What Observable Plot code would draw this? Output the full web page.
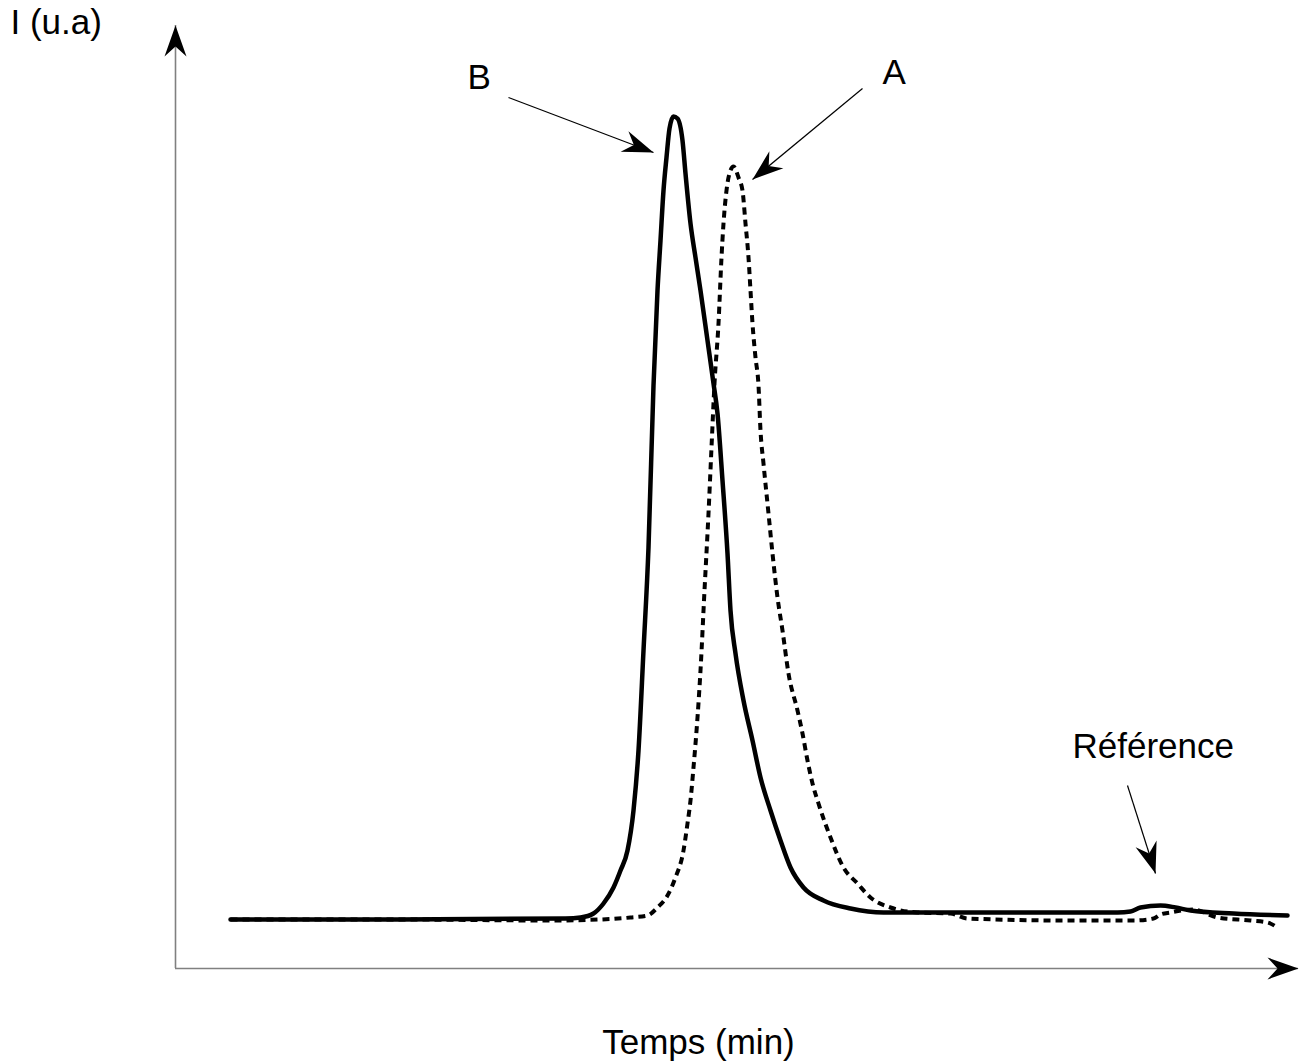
<!DOCTYPE html>
<html>
<head>
<meta charset="utf-8">
<script src="https://cdn.jsdelivr.net/npm/d3@7"></script>
<script src="https://cdn.jsdelivr.net/npm/@observablehq/plot@0.6"></script>
<style>
  html, body { margin: 0; padding: 0; background: #fff; }
  #chart svg { display: block; }
</style>
</head>
<body>
<div id="chart"></div>
<script>
// ---- Data (time in min, intensity in arbitrary units) ----
const timeB = [2.75, 11.25, 19.5, 20.25, 20.9, 21.4, 21.9, 22.25, 22.6, 22.9, 23.15, 23.4, 23.65, 23.9, 24.1, 24.25, 24.4, 24.55, 24.7, 24.9, 25.1, 25.35, 25.5, 25.75, 26.0, 26.25, 26.6, 26.9, 27.1, 27.35, 27.6, 27.75, 28.0, 28.4, 28.85, 29.25, 29.75, 30.25, 30.75, 31.4, 32.4, 33.75, 35.4, 38.75, 41.25, 47.1, 47.75, 48.25, 49.25, 50.0, 50.75, 52.9, 55.6];
const intensityB = [4.9, 4.9, 5.0, 5.1, 5.5, 6.5, 8.1, 9.8, 11.8, 15.8, 21.8, 31.8, 42.1, 58.3, 67.8, 72.8, 77.8, 81.1, 84.0, 85.2, 85.0, 82.8, 79.5, 74.5, 71.1, 67.8, 62.8, 58.5, 55.5, 48.8, 41.5, 35.8, 31.5, 26.8, 22.8, 19.1, 15.8, 12.8, 10.1, 8.1, 6.8, 6.0, 5.6, 5.6, 5.6, 5.6, 5.7, 6.1, 6.3, 6.1, 5.8, 5.5, 5.3];

const timeA = [2.75, 11.25, 18.75, 21.25, 22.75, 23.6, 24.1, 24.6, 25.0, 25.4, 25.6, 25.75, 25.9, 26.1, 26.25, 26.45, 26.65, 26.8, 26.95, 27.15, 27.3, 27.4, 27.55, 27.7, 27.9, 28.15, 28.35, 28.5, 28.65, 28.75, 28.85, 29.0, 29.15, 29.25, 29.4, 29.65, 29.85, 30.1, 30.35, 30.65, 31.1, 31.35, 31.6, 31.85, 32.15, 32.75, 33.4, 34.1, 34.75, 35.75, 37.1, 38.75, 39.6, 44.6, 47.9, 48.9, 49.25, 49.75, 50.9, 52.1, 53.75, 54.6, 55.1];
const intensityA = [4.9, 4.9, 4.8, 4.9, 5.1, 5.3, 6.1, 7.3, 9.1, 11.8, 14.5, 16.8, 20.1, 25.1, 29.8, 37.8, 45.5, 52.1, 58.5, 64.5, 71.1, 74.5, 77.8, 79.5, 80.2, 79.1, 77.8, 74.5, 71.1, 67.8, 64.5, 61.1, 58.3, 53.8, 50.5, 45.5, 41.5, 37.1, 33.8, 29.5, 25.8, 23.5, 20.8, 18.5, 16.5, 13.1, 10.1, 8.5, 7.1, 6.1, 5.6, 5.5, 5.0, 4.8, 4.8, 5.0, 5.4, 5.6, 5.9, 5.1, 4.8, 4.6, 4.1];

// Text labels (left-anchored)
const labelText = ["I (u.a)", "B", "A", "Référence"];
const labelX = [-8.25, 14.6, 35.35, 44.85];
const labelY = [93.5, 88.0, 88.5, 21.1];
// Axis title (centred)
const xTitle = ["Temps (min)"];
const xTitleX = [26.15];
const xTitleY = [-8.5];

// Annotation arrows (tail -> tip)
const arrowName = ["B", "A", "Référence"];
const arrowX1 = [16.65, 34.35, 47.6];
const arrowY1 = [87.1, 88.0, 18.3];
const arrowX2 = [23.9, 28.85, 49.0];
const arrowY2 = [81.6, 78.9, 9.5];

// Axis extents
const xAxisEnd = 56.15;
const yAxisEnd = 94.3;

// ---- Build tables ----
const seriesB = timeB.map((t, i) => ({t, v: intensityB[i]}));
const seriesA = timeA.map((t, i) => ({t, v: intensityA[i]}));
const labels = labelText.map((s, i) => ({s, x: labelX[i], y: labelY[i]}));
const titles = xTitle.map((s, i) => ({s, x: xTitleX[i], y: xTitleY[i]}));
const arrows = arrowName.map((n, i) => ({n, x1: arrowX1[i], y1: arrowY1[i], x2: arrowX2[i], y2: arrowY2[i]}));

const xDomain = [0, 56.1], xRange = [175, 1297];
const yDomain = [0, 93.8], yRange = [968, 30];
const sx = d3.scaleLinear(xDomain, xRange);
const sy = d3.scaleLinear(yDomain, yRange);

// arrowheads: for annotation arrows and both axes
const heads = [
  ...arrows.map(a => ({x: a.x2, y: a.y2, x0: a.x1, y0: a.y1})),
  {x: 0, y: yAxisEnd, x0: 0, y0: 0},
  {x: xAxisEnd, y: 0, x0: 0, y0: 0}
].map(h => {
  const dx = sx(h.x) - sx(h.x0), dy = sy(h.y) - sy(h.y0);
  return {...h, angle: Math.atan2(dx, -dy) * 180 / Math.PI};
});

// stealth arrowhead symbol, tip at origin pointing up
const stealth = {
  draw(context) {
    context.moveTo(0, 0);
    context.lineTo(11, 31);
    context.lineTo(0, 21);
    context.lineTo(-11, 31);
    context.closePath();
  }
};

const font = "Liberation Sans, Arial, Helvetica, sans-serif";

const chart = Plot.plot({
  width: 1305,
  height: 1061,
  marginLeft: 0, marginRight: 0, marginTop: 0, marginBottom: 0,
  x: {domain: xDomain, range: xRange, axis: null},
  y: {domain: yDomain, range: yRange, axis: null},
  style: {fontFamily: font, background: "#fff"},
  marks: [
    Plot.ruleX([0], {y1: 0, y2: yAxisEnd, stroke: "#808080", strokeWidth: 1.6}),
    Plot.ruleY([0], {x1: 0, x2: xAxisEnd, stroke: "#808080", strokeWidth: 1.6}),
    Plot.line(seriesA, {x: "t", y: "v", curve: "monotone-x", stroke: "#000", strokeWidth: 4, strokeDasharray: "7,5", strokeLinecap: "butt"}),
    Plot.line(seriesB, {x: "t", y: "v", curve: "monotone-x", stroke: "#000", strokeWidth: 4.5}),
    Plot.link(arrows, {x1: "x1", y1: "y1", x2: "x2", y2: "y2", stroke: "#000", strokeWidth: 1.2}),
    Plot.dot(heads, {x: "x", y: "y", rotate: "angle", symbol: stealth, r: 5, fill: "#000", stroke: null}),
    Plot.text(labels, {x: "x", y: "y", text: "s", textAnchor: "start", lineAnchor: "bottom", fontSize: 35, fontFamily: font, fill: "#000"}),
    Plot.text(titles, {x: "x", y: "y", text: "s", textAnchor: "middle", lineAnchor: "bottom", fontSize: 35, fontFamily: font, fill: "#000"})
  ]
});

document.getElementById("chart").appendChild(chart);
</script>
</body>
</html>
